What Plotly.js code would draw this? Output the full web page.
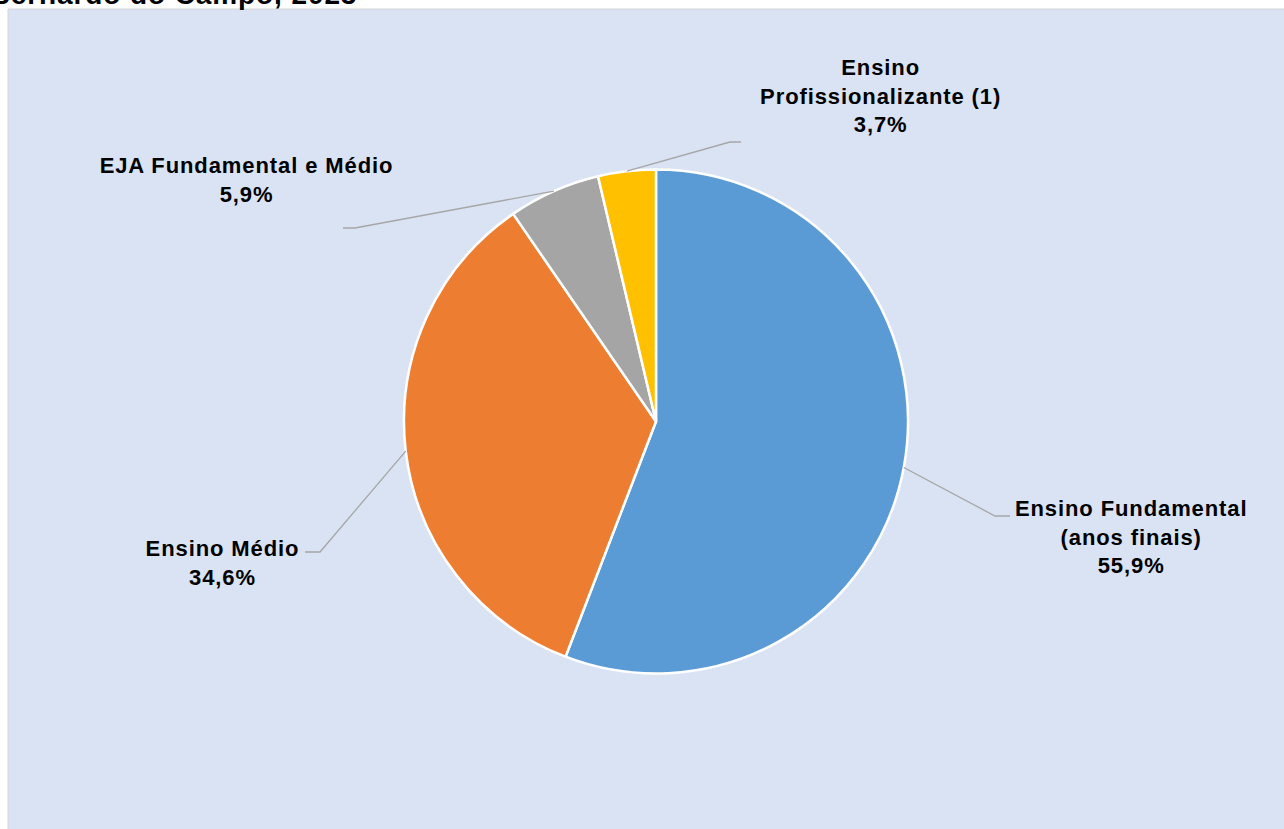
<!DOCTYPE html>
<html>
<head>
<meta charset="utf-8">
<script src="https://cdn.plot.ly/plotly-3.0.1.min.js"></script>
<style>
html,body{margin:0;padding:0;background:#fff;}
#chart{width:1284px;height:829px;}
#chart .annotation-text{letter-spacing:0.9px;}
</style>
</head>
<body>
<div id="chart"></div>
<script>
// Data
const categories = ["Ensino Fundamental<br>(anos finais)", "Ensino Médio", "EJA Fundamental e Médio", "Ensino<br>Profissionalizante (1)"];
const values = [55.9, 34.6, 5.9, 3.7];
const valueLabels = ["55,9%", "34,6%", "5,9%", "3,7%"];
const colors = ["#5B9BD5", "#ED7D31", "#A5A5A5", "#FFC000"];
const titleText = "Bernardo do Campo, 2023";

// Layout geometry (pixels)
const W = 1284, H = 829;
const cx = 656, cy = 421.5, R = 252;
const px = x => x / W;
const py = y => 1 - y / H;

// label block centres and leader elbows (layout positions)
const labelPos = [[1131, 537], [222, 563], [246, 180], [880, 96]];
const elbows = [[[995, 516], [1010, 516]], [[320, 552], [305, 552]], [[355, 228], [343, 228]], [[730, 142], [741, 142]]];

const total = values.reduce((a, b) => a + b, 0);
const shapes = [{
  type: "rect", xref: "paper", yref: "paper", layer: "below",
  x0: px(8), x1: px(W + 10), y0: py(9), y1: py(H + 10),
  fillcolor: "#DAE3F3", line: {color: "#D4D4D4", width: 1}
}];
let cum = 0;
values.forEach((v, i) => {
  const mid = (cum + v / 2) / total * 2 * Math.PI;
  cum += v;
  const sx = cx + R * Math.sin(mid), sy = cy - R * Math.cos(mid);
  const e = elbows[i];
  shapes.push({
    type: "path", xref: "paper", yref: "paper", layer: "above",
    path: `M ${px(sx)} ${py(sy)} L ${px(e[0][0])} ${py(e[0][1])} L ${px(e[1][0])} ${py(e[1][1])}`,
    line: {color: "#A6A6A6", width: 1.3}
  });
});

const annFont = {family: "Liberation Sans, Arial, sans-serif", size: 22, color: "#000000"};
const annotations = categories.map((c, i) => ({
  xref: "paper", yref: "paper", x: px(labelPos[i][0]), y: py(labelPos[i][1]),
  xanchor: "center", yanchor: "middle", showarrow: false, align: "center",
  text: "<b>" + c + "<br>" + valueLabels[i] + "</b>", font: annFont
}));
annotations.push({
  xref: "paper", yref: "paper", x: px(-2), y: py(12), xanchor: "left", yanchor: "bottom",
  showarrow: false, text: "<b>" + titleText + "</b>",
  font: {family: "Liberation Sans, Arial, sans-serif", size: 28, color: "#000000"}
});

const trace = {
  type: "pie",
  labels: categories,
  values: values,
  sort: false,
  direction: "clockwise",
  rotation: 0,
  textinfo: "none",
  hoverinfo: "label+percent",
  marker: {colors: colors, line: {color: "#FFFFFF", width: 2.5}},
  domain: {x: [px(cx - R), px(cx + R)], y: [py(cy + R), py(cy - R)]},
  showlegend: false
};

const layout = {
  width: W, height: H,
  margin: {l: 0, r: 0, t: 0, b: 0},
  paper_bgcolor: "#FFFFFF",
  showlegend: false,
  shapes: shapes,
  annotations: annotations
};

Plotly.newPlot("chart", [trace], layout, {displayModeBar: false, staticPlot: true});
</script>
</body>
</html>
